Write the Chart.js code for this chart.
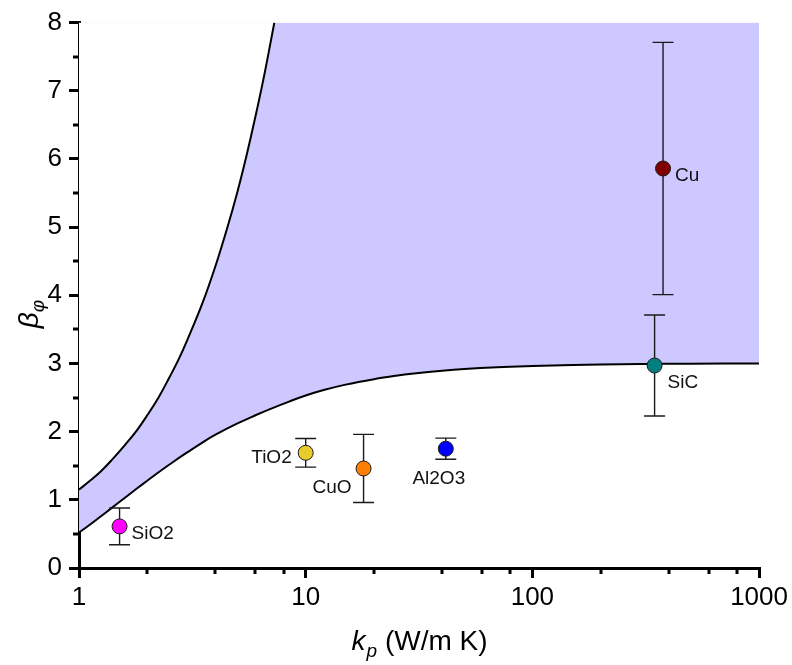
<!DOCTYPE html>
<html>
<head>
<meta charset="utf-8">
<script src="https://cdn.jsdelivr.net/npm/chart.js@4/dist/chart.umd.min.js"></script>
<style>
  html, body { margin: 0; padding: 0; background: #fff; }
  #wrap { width: 792px; height: 665px; }
</style>
</head>
<body>
<div id="wrap"><canvas id="c" width="792" height="665"></canvas></div>
<script>
// Measured enhancement coefficient for each nanoparticle material
const materials = ['SiO2', 'TiO2', 'CuO', 'Al2O3', 'Cu', 'SiC'];
const particleK = [1.51, 10.0, 18.0, 41.5, 377, 346];
const betaValue = [0.61, 1.69, 1.46, 1.75, 5.86, 2.97];
const betaError = [0.27, 0.21, 0.50, 0.155, 1.85, 0.74];

// Lower bound curve
const lowerK    = [1, 1.1, 1.25, 1.4, 1.6, 1.8, 2, 2.3, 2.6, 3, 3.5, 4, 5, 6, 7, 8.5, 10, 12, 15, 20, 25, 30, 40, 50, 70, 100, 150, 200, 300, 500, 1000];
const lowerBeta = [0.52, 0.62, 0.76, 0.885, 1.035, 1.165, 1.28, 1.43, 1.555, 1.695, 1.84, 1.955, 2.12, 2.24, 2.335, 2.445, 2.53, 2.61, 2.69, 2.77, 2.82, 2.853, 2.895, 2.92, 2.945, 2.962, 2.977, 2.985, 2.992, 2.997, 3.00];

// Upper bound curve (leaves the plot at beta = 8)
const upperK    = [1, 1.1, 1.25, 1.4, 1.6, 1.8, 2, 2.25, 2.5, 2.75, 3, 3.5, 4, 4.5, 5, 5.5, 6, 6.5, 7, 7.27];
const upperBeta = [1.15, 1.26, 1.42, 1.59, 1.81, 2.02, 2.24, 2.51, 2.79, 3.06, 3.34, 3.88, 4.43, 4.98, 5.52, 6.07, 6.62, 7.16, 7.71, 8.00];

// Axis ticks
const xTicks = [1, 10, 100, 1000];
const xMinorTicks = [2, 4, 6, 8, 20, 40, 60, 80, 200, 400, 600, 800];
const yMinorTicks = [0.5, 1.5, 2.5, 3.5, 4.5, 5.5, 6.5, 7.5];

// Marker colours and label placement
const markerColors = ['#ff00ff', '#e8cc2c', '#ff7f00', '#0000ff', '#800000', '#008080'];
const labelStyle = [
  { align: 'left',   dx: 12,  dy: 7 },
  { align: 'right',  dx: -14, dy: 5 },
  { align: 'right',  dx: -12, dy: 19 },
  { align: 'center', dx: -7,  dy: 30 },
  { align: 'left',   dx: 12,  dy: 7 },
  { align: 'left',   dx: 13,  dy: 17 }
];

const FONT = '"Liberation Sans", Arial, Helvetica, sans-serif';
const BAND = '#cdc8ff';

const toPoints = (xs, ys) => xs.map((x, i) => ({ x: x, y: ys[i] }));

// Error bars behind the markers
const errorBars = {
  id: 'errorBars',
  beforeDatasetDraw(chart, args) {
    if (args.index !== 0) return;
    const c = chart.ctx, xs = chart.scales.x, ys = chart.scales.y;
    c.save();
    c.strokeStyle = '#1a1a1a';
    c.lineWidth = 1.4;
    c.beginPath();
    particleK.forEach((k, i) => {
      const px = xs.getPixelForValue(k);
      const top = ys.getPixelForValue(betaValue[i] + betaError[i]);
      const bot = ys.getPixelForValue(betaValue[i] - betaError[i]);
      c.moveTo(px, top); c.lineTo(px, bot);
      c.moveTo(px - 10.5, top); c.lineTo(px + 10.5, top);
      c.moveTo(px - 10.5, bot); c.lineTo(px + 10.5, bot);
    });
    c.stroke();
    c.restore();
  }
};

// Minor ticks, point labels and axis titles
const decorations = {
  id: 'decorations',
  afterDraw(chart) {
    const c = chart.ctx, xs = chart.scales.x, ys = chart.scales.y;
    const area = chart.chartArea;
    c.save();
    c.strokeStyle = '#000';
    c.lineWidth = 3;
    c.beginPath();
    xMinorTicks.forEach(v => {
      const px = Math.round(xs.getPixelForValue(v));
      c.moveTo(px, area.bottom); c.lineTo(px, area.bottom + 6);
    });
    yMinorTicks.forEach(v => {
      const py = Math.round(ys.getPixelForValue(v));
      c.moveTo(area.left, py); c.lineTo(area.left - 6, py);
    });
    c.stroke();

    // material labels
    c.fillStyle = '#111';
    c.font = '19px ' + FONT;
    c.textBaseline = 'middle';
    materials.forEach((name, i) => {
      const px = xs.getPixelForValue(particleK[i]);
      const py = ys.getPixelForValue(betaValue[i]);
      c.textAlign = labelStyle[i].align;
      c.fillText(name, px + labelStyle[i].dx, py + labelStyle[i].dy);
    });

    // x title: k_p (W/m K)
    c.fillStyle = '#000';
    c.textAlign = 'left';
    c.textBaseline = 'alphabetic';
    const base = 650;
    const rest = ' (W/m K)';
    c.font = '28px ' + FONT;
    const restW = c.measureText(rest).width;
    c.font = 'italic 28px ' + FONT;
    const kW = c.measureText('k').width;
    c.font = 'italic 19px ' + FONT;
    const pW = c.measureText('p').width;
    const total = kW + pW + restW;
    const x0 = (area.left + area.right) / 2 - total / 2;
    c.font = 'italic 28px ' + FONT;
    c.fillText('k', x0, base);
    c.font = 'italic 19px ' + FONT;
    c.fillText('p', x0 + kW + 1, base + 7);
    c.font = '28px ' + FONT;
    c.fillText(rest, x0 + kW + pW + 1, base);

    // y title: beta_phi
    c.save();
    c.translate(38, 314);
    c.rotate(-Math.PI / 2);
    c.font = 'italic 28px ' + FONT;
    const bW = c.measureText('\u03b2').width;
    c.font = 'italic 19px ' + FONT;
    const fW = c.measureText('\u03c6').width;
    const start = -(bW + fW) / 2;
    c.font = 'italic 28px ' + FONT;
    c.fillText('\u03b2', start, 0);
    c.font = 'italic 19px ' + FONT;
    c.fillText('\u03c6', start + bW, 6);
    c.restore();

    c.restore();
  }
};

new Chart(document.getElementById('c'), {
  type: 'scatter',
  data: {
    datasets: [
      {
        label: 'materials',
        data: toPoints(particleK, betaValue),
        pointRadius: 7.5,
        pointHoverRadius: 7.5,
        pointBackgroundColor: markerColors,
        pointBorderColor: '#1a1a1a',
        pointBorderWidth: 1,
        showLine: false,
        order: 0
      },
      {
        label: 'upper bound',
        data: toPoints(upperK, upperBeta),
        showLine: true,
        borderColor: '#000',
        borderWidth: 2,
        pointRadius: 0,
        tension: 0.4,
        fill: 'end',
        backgroundColor: '#ffffff',
        order: 1
      },
      {
        label: 'lower bound',
        data: toPoints(lowerK, lowerBeta),
        showLine: true,
        borderColor: '#000',
        borderWidth: 2,
        pointRadius: 0,
        tension: 0.4,
        fill: 'end',
        backgroundColor: BAND,
        order: 2
      }
    ]
  },
  options: {
    responsive: false,
    animation: false,
    devicePixelRatio: 1,
    layout: { padding: { top: 17, right: 32, left: 0, bottom: 0 } },
    plugins: {
      legend: { display: false },
      tooltip: { enabled: false },
      filler: { propagate: false }
    },
    scales: {
      x: {
        type: 'logarithmic',
        min: 1,
        max: 1000,
        afterBuildTicks(scale) { scale.ticks = xTicks.map(v => ({ value: v })); },
        afterFit(scale) { scale.height = 97; },
        ticks: {
          color: '#000',
          font: { family: FONT, size: 26 },
          padding: 4,
          maxRotation: 0,
          autoSkip: false,
          callback: v => String(v)
        },
        grid: {
          display: true, drawOnChartArea: false, drawTicks: true,
          tickLength: 10, lineWidth: 3, tickWidth: 3, color: '#000', tickColor: '#000'
        },
        border: { display: true, width: 3, color: '#000' }
      },
      y: {
        min: 0,
        max: 8,
        afterFit(scale) { scale.width = 79; },
        ticks: {
          stepSize: 1,
          color: '#000',
          font: { family: FONT, size: 26 },
          padding: 7
        },
        grid: {
          display: true, drawOnChartArea: false, drawTicks: true,
          tickLength: 10, lineWidth: 3, tickWidth: 3, color: '#000', tickColor: '#000'
        },
        border: { display: true, width: 3, color: '#000' }
      }
    }
  },
  plugins: [errorBars, decorations]
});
</script>
</body>
</html>
